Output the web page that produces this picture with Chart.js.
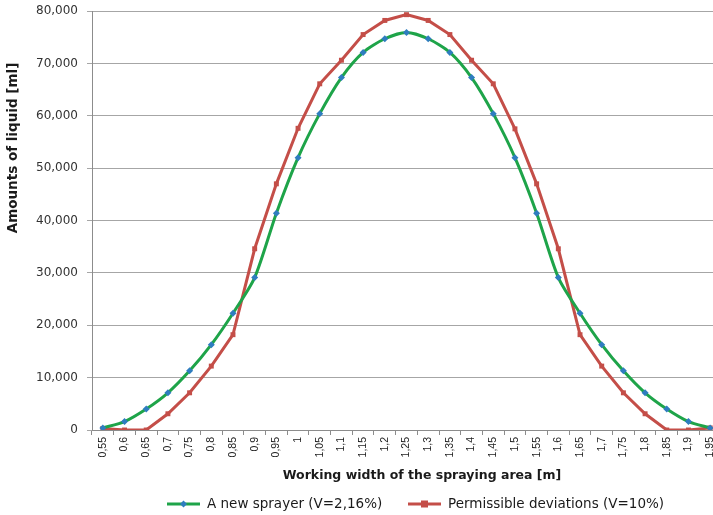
<!DOCTYPE html>
<html lang="en">
<head>
    <meta charset="UTF-8">
    <title>Amounts of liquid vs working width</title>
    <script src="https://cdn.jsdelivr.net/npm/chart.js"></script>
    <style>
        html, body { margin: 0; padding: 0; background: #fff; overflow: hidden; }
        .wrap { position: relative; width: 725px; height: 515px; }
    </style>
</head>
<body>
    <div class="wrap">
        <canvas id="sprayChart"></canvas>
    </div>

    <script>
        // working width categories [m]
        const widths = ['0,55', '0,6', '0,65', '0,7', '0,75', '0,8', '0,85', '0,9', '0,95', '1',
                        '1,05', '1,1', '1,15', '1,2', '1,25', '1,3', '1,35', '1,4', '1,45', '1,5',
                        '1,55', '1,6', '1,65', '1,7', '1,75', '1,8', '1,85', '1,9', '1,95'];

        // A new sprayer (V=2,16%)
        const newSprayer = [400, 1600, 4000, 7100, 11300, 16300, 22300, 29100, 41400, 52000,
                            60400, 67300, 72100, 74700, 75900, 74700, 72100, 67300, 60400, 52000,
                            41400, 29100, 22300, 16300, 11300, 7100, 4000, 1600, 400];

        // Permissible deviations (V=10%)
        const permissible = [300, 0, 0, 3100, 7100, 12200, 18200, 34600, 47000, 57600,
                             66100, 70600, 75500, 78200, 79300, 78200, 75500, 70600, 66100, 57500,
                             47000, 34600, 18200, 12200, 7100, 3100, 0, 0, 400];

        const yTicks = [0, 10000, 20000, 30000, 40000, 50000, 60000, 70000, 80000];

        const xTitle = 'Working width of the spraying area [m]';
        const yTitle = 'Amounts of liquid [ml]';

        const greenLine = '#1ea449';
        const greenMark = '#2f7dbf';
        const redLine = '#c44e48';

        // titles and legend drawn by hand so they sit where the original has them
        const decor = {
            id: 'decor',
            afterDraw(chart) {
                const ctx = chart.ctx;
                ctx.save();
                ctx.fillStyle = '#1a1a1a';
                ctx.textAlign = 'center';
                ctx.textBaseline = 'middle';
                ctx.font = 'bold 12.5px "DejaVu Sans"';
                ctx.fillText(xTitle, 422, 476);

                ctx.save();
                ctx.font = 'bold 13.5px "DejaVu Sans"';
                ctx.translate(13, 148);
                ctx.rotate(-Math.PI / 2);
                ctx.fillText(yTitle, 0, 0);
                ctx.restore();

                // legend
                const items = [
                    { x: 167, ds: chart.data.datasets[0] },
                    { x: 408, ds: chart.data.datasets[1] }
                ];
                ctx.font = '13.5px "DejaVu Sans"';
                ctx.textAlign = 'left';
                items.forEach(it => {
                    const y = 504;
                    ctx.strokeStyle = it.ds.borderColor;
                    ctx.lineWidth = 3;
                    ctx.beginPath();
                    ctx.moveTo(it.x, y);
                    ctx.lineTo(it.x + 33, y);
                    ctx.stroke();
                    ctx.fillStyle = it.ds.pointBackgroundColor;
                    const cx = it.x + 16.5;
                    if (it.ds.pointStyle === 'rectRot') {
                        ctx.beginPath();
                        ctx.moveTo(cx, y - 3.5); ctx.lineTo(cx + 3.5, y);
                        ctx.lineTo(cx, y + 3.5); ctx.lineTo(cx - 3.5, y);
                        ctx.closePath(); ctx.fill();
                    } else {
                        ctx.fillRect(cx - 3.5, y - 3.5, 7, 7);
                    }
                    ctx.fillStyle = '#1a1a1a';
                    ctx.fillText(it.ds.label, it.x + 40, y);
                });
                ctx.restore();
            }
        };

        const ctxSpray = document.getElementById('sprayChart').getContext('2d');
        new Chart(ctxSpray, {
            type: 'line',
            data: {
                labels: widths,
                datasets: [
                    {
                        label: 'A new sprayer (V=2,16%)',
                        data: newSprayer,
                        borderColor: greenLine,
                        borderWidth: 3,
                        tension: 0.25,
                        pointStyle: 'rectRot',
                        pointRadius: 3.5,
                        pointBackgroundColor: greenMark,
                        pointBorderColor: greenMark,
                        pointBorderWidth: 0
                    },
                    {
                        label: 'Permissible deviations (V=10%)',
                        data: permissible,
                        borderColor: redLine,
                        borderWidth: 3,
                        tension: 0,
                        pointStyle: 'rect',
                        pointRadius: 3.5,
                        pointBackgroundColor: redLine,
                        pointBorderColor: redLine,
                        pointBorderWidth: 0
                    }
                ]
            },
            options: {
                responsive: true,
                maintainAspectRatio: false,
                animation: false,
                layout: { padding: { top: 11, right: 4, bottom: 0, left: 0 } },
                plugins: {
                    legend: { display: false },
                    tooltip: { enabled: false }
                },
                scales: {
                    x: {
                        offset: true,
                        afterFit: s => { s.height = 85; },
                        grid: {
                            display: true,
                            drawOnChartArea: false,
                            drawTicks: true,
                            tickLength: 5,
                            color: '#8c8c8c',
                            offset: true
                        },
                        border: { color: '#8c8c8c' },
                        ticks: {
                            autoSkip: false,
                            minRotation: 90,
                            maxRotation: 90,
                            padding: 2,
                            color: '#222',
                            font: { family: 'Liberation Sans', size: 10.5 }
                        }
                    },
                    y: {
                        min: 0,
                        max: 80000,
                        afterFit: s => { s.width = 92; s.paddingTop = 0; s.paddingBottom = 0; },
                        afterBuildTicks: s => { s.ticks = yTicks.map(v => ({ value: v })); },
                        grid: {
                            color: '#a6a6a6',
                            tickLength: 5
                        },
                        border: { color: '#8c8c8c' },
                        ticks: {
                            padding: 9,
                            color: '#333',
                            font: { family: 'DejaVu Sans', size: 12 },
                            callback: v => v.toLocaleString('en-US')
                        }
                    }
                }
            },
            plugins: [decor]
        });
    </script>
</body>
</html>
